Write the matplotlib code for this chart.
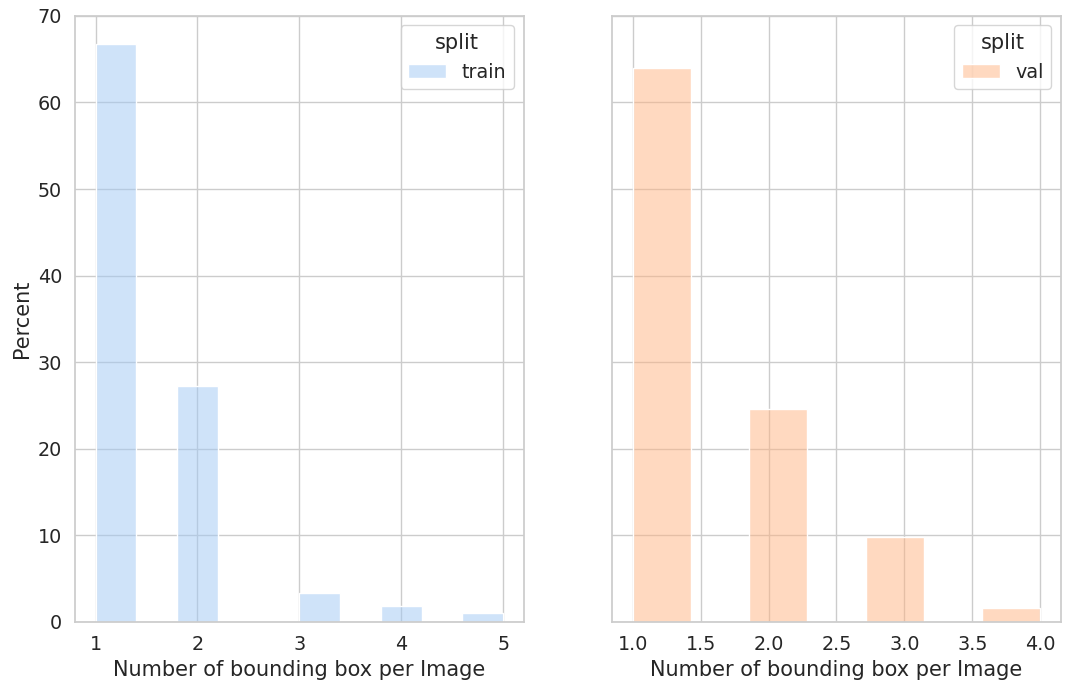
import numpy as np
import pandas as pd
import seaborn as sns
import matplotlib
matplotlib.use("Agg")
import matplotlib.pyplot as plt
from matplotlib.ticker import MultipleLocator

sns.set_theme(style="whitegrid", palette="pastel", font_scale=1.25)

# Number of boxes per image and percent of images
train_boxes = [1, 2, 3, 4, 5]
train_pct = [66.7, 27.2, 3.3, 1.8, 1.0]
val_boxes = [1, 2, 3, 4]
val_pct = [63.9, 24.5, 9.8, 1.6]

train_df = pd.DataFrame({"n": train_boxes, "w": train_pct, "split": "train"})
val_df = pd.DataFrame({"n": val_boxes, "w": val_pct, "split": "val"})

pal = sns.color_palette("pastel")

fig, axes = plt.subplots(1, 2, figsize=(10.67, 6.91), sharey=True)

sns.histplot(data=train_df, x="n", weights="w", hue="split", bins=10,
             stat="percent", palette={"train": pal[0]}, ax=axes[0])
sns.histplot(data=val_df, x="n", weights="w", hue="split", bins=7,
             stat="percent", palette={"val": pal[1]}, ax=axes[1])

for ax in axes:
    ax.set_xlabel("Number of bounding box per Image")
axes[0].xaxis.set_major_locator(MultipleLocator(1))
axes[0].set_ylabel("Percent")
axes[0].set_ylim(0, 70)

plt.subplots_adjust(left=0.0705, right=0.994, top=0.977, bottom=0.1, wspace=0.198)
plt.savefig("out.png", dpi=100)
